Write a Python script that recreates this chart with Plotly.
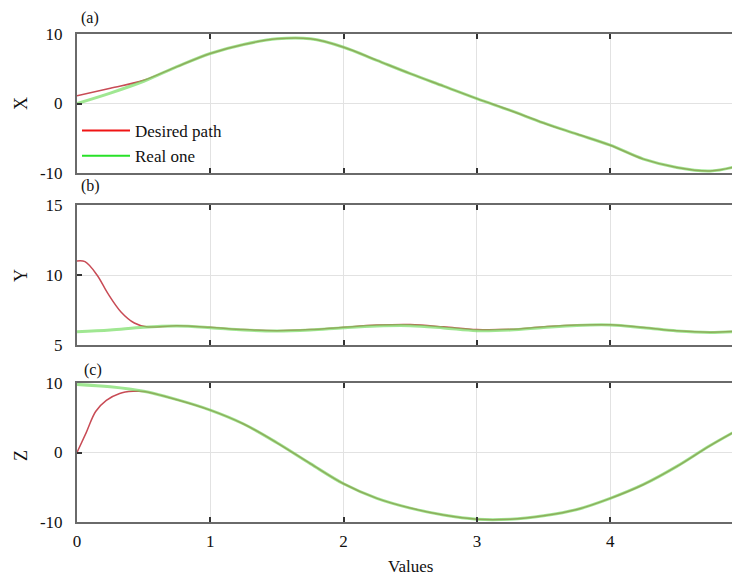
import plotly.graph_objects as go
from plotly.subplots import make_subplots

# ---- data ----
t_real = [0, 0.25, 0.5, 0.75, 1.0, 1.25, 1.5, 1.75, 2.0, 2.25, 2.5, 2.75,
          3.0, 3.25, 3.5, 3.75, 4.0, 4.25, 4.5, 4.75, 5.0]

x_real = [0.0, 1.5, 3.2, 5.3, 7.2, 8.5, 9.3, 9.3, 8.1, 6.2, 4.3, 2.5,
          0.7, -1.0, -2.8, -4.4, -6.0, -8.0, -9.2, -9.7, -8.8]
t_x_des = [0, 0.25, 0.5, 0.75, 1.0, 1.25, 1.5, 1.75, 2.0, 2.25, 2.5, 2.75,
           3.0, 3.25, 3.5, 3.75, 4.0, 4.25, 4.5, 4.75, 5.0]
x_des = [1.1, 2.2, 3.35, 5.3, 7.2, 8.5, 9.3, 9.3, 8.1, 6.2, 4.3, 2.5,
         0.7, -1.0, -2.8, -4.4, -6.0, -8.0, -9.2, -9.7, -8.8]

y_real = [5.95, 6.08, 6.27, 6.35, 6.24, 6.07, 6.0, 6.08, 6.24, 6.36, 6.38, 6.22,
          6.02, 6.07, 6.25, 6.4, 6.43, 6.24, 6.0, 5.9, 6.0]
t_y_des = [0, 0.06, 0.15, 0.23, 0.33, 0.43, 0.52, 0.75, 1.0, 1.25, 1.5, 1.75,
           2.0, 2.25, 2.5, 2.75, 3.0, 3.25, 3.5, 3.75, 4.0, 4.25, 4.5, 4.75, 5.0]
y_des = [11.0, 10.95, 10.0, 8.7, 7.36, 6.57, 6.3, 6.37, 6.26, 6.1, 6.02, 6.1,
         6.27, 6.42, 6.46, 6.3, 6.1, 6.12, 6.3, 6.43, 6.44, 6.25, 6.01, 5.91, 6.0]

z_real = [9.8, 9.45, 8.8, 7.6, 6.1, 4.1, 1.4, -1.6, -4.5, -6.6, -8.0, -9.0,
          -9.6, -9.6, -9.1, -8.2, -6.6, -4.6, -2.0, 1.0, 3.7]
t_z_des = [0, 0.07, 0.14, 0.22, 0.32, 0.42, 0.5, 0.75, 1.0, 1.25, 1.5, 1.75,
           2.0, 2.25, 2.5, 2.75, 3.0, 3.25, 3.5, 3.75, 4.0, 4.25, 4.5, 4.75, 5.0]
z_des = [0.0, 2.9, 5.9, 7.5, 8.5, 8.8, 8.78, 7.6, 6.1, 4.1, 1.4, -1.6,
         -4.5, -6.6, -8.0, -9.0, -9.6, -9.6, -9.1, -8.2, -6.6, -4.6, -2.0, 1.0, 3.7]

x_ticks = [0, 1, 2, 3, 4, 5]
x_tick_labels = ["0", "1", "2", "3", "4", "5"]
panel_ticks = [[-10, 0, 10], [5, 10, 15], [-10, 0, 10]]
panel_ticklabels = [["-10", "0", "10"], ["5", "10", "15"], ["-10", "0", "10"]]
panel_ranges = [[-10, 10], [5, 15], [-10, 10]]
panel_titles = ["X", "Y", "Z"]
panel_tags = ["(a)", "(b)", "(c)"]
series_names = ["Desired path", "Real one"]

# ---- figure ----
W, H = 740, 578
OFF = 8            # page body margin: the figure is drawn 8 px right / down
L = 77 - OFF       # left edge of the plotting area inside the figure
PX_PER_UNIT = 133.3
fig = make_subplots(rows=3, cols=1, shared_xaxes=True)

RED = "rgb(200,75,85)"
GREEN = "rgba(115,220,95,0.68)"
LEG_RED = "rgb(240,20,20)"
LEG_GREEN = "rgb(40,225,40)"
FONT = "Liberation Serif, Times New Roman, serif"

des = [(t_x_des, x_des), (t_y_des, y_des), (t_z_des, z_des)]
real = [x_real, y_real, z_real]
for i in range(3):
    fig.add_trace(go.Scatter(x=des[i][0], y=des[i][1], mode="lines",
                             line=dict(color=RED, width=1.5, shape="spline", smoothing=1.0),
                             name=series_names[0], showlegend=False),
                  row=i + 1, col=1)
    fig.add_trace(go.Scatter(x=t_real, y=real[i], mode="lines",
                             line=dict(color=GREEN, width=3, shape="spline", smoothing=1.0),
                             name=series_names[1], showlegend=False),
                  row=i + 1, col=1)

# legend entries (vivid colours as in the reference's key)
fig.add_trace(go.Scatter(x=[None], y=[None], mode="lines", name=series_names[0],
                         line=dict(color=LEG_RED, width=2)), row=1, col=1)
fig.add_trace(go.Scatter(x=[None], y=[None], mode="lines", name=series_names[1],
                         line=dict(color=LEG_GREEN, width=2)), row=1, col=1)


def fy(py):
    """reference page pixel row -> paper fraction"""
    return 1 - (py - OFF) / H


def fx(px):
    return (px - OFF - L) / (W - L)


# panel pixel extents in the reference (top, bottom)
panels_px = [(34, 173), (205, 345), (383, 522)]
axis_common = dict(showline=True, mirror="ticks", linecolor="#6a6a6a", linewidth=2,
                   ticks="inside", ticklen=5, tickwidth=1.5, tickcolor="#333",
                   showgrid=True, gridcolor="#e2e2e2", gridwidth=1, zeroline=False,
                   tickfont=dict(family=FONT, size=17, color="#111"))
x_max = (W - L) / PX_PER_UNIT
for i in range(3):
    top, bot = panels_px[i]
    yname = "yaxis" if i == 0 else f"yaxis{i+1}"
    xname = "xaxis" if i == 0 else f"xaxis{i+1}"
    fig.layout[yname].update(domain=[fy(bot), fy(top)], range=panel_ranges[i],
                             tickvals=panel_ticks[i], ticktext=panel_ticklabels[i],
                             ticklabelstandoff=9, **axis_common)
    fig.layout[xname].update(range=[0, x_max], tickvals=x_ticks, ticktext=x_tick_labels,
                             showticklabels=(i == 2), ticklabelstandoff=3, **axis_common)

annotations = []
tag_px = [(90, 18), (90, 186), (93, 370)]
title_py = [103, 275, 455]
for i in range(3):
    annotations.append(dict(text=panel_tags[i], xref="paper", yref="paper",
                            x=fx(tag_px[i][0]), y=fy(tag_px[i][1]),
                            xanchor="center", yanchor="middle", showarrow=False,
                            font=dict(family=FONT, size=16, color="#111")))
    annotations.append(dict(text=panel_titles[i], xref="paper", yref="paper",
                            x=fx(21), y=fy(title_py[i]), textangle=-90,
                            xanchor="center", yanchor="middle", showarrow=False,
                            font=dict(family=FONT, size=18, color="#111")))
annotations.append(dict(text="Values", xref="paper", yref="paper",
                        x=fx(410), y=fy(566),
                        xanchor="center", yanchor="middle", showarrow=False,
                        font=dict(family=FONT, size=17, color="#111")))

fig.update_layout(
    width=W, height=H,
    margin=dict(l=L, r=0, t=0, b=0, autoexpand=False),
    paper_bgcolor="white", plot_bgcolor="white",
    annotations=annotations,
    legend=dict(x=0.0, y=fy(113), xanchor="left", yanchor="top",
                bgcolor="rgba(255,255,255,0)",
                font=dict(family=FONT, size=17, color="#111"),
                tracegroupgap=0, itemwidth=48),
    showlegend=True,
)

fig.write_html("out.html")
